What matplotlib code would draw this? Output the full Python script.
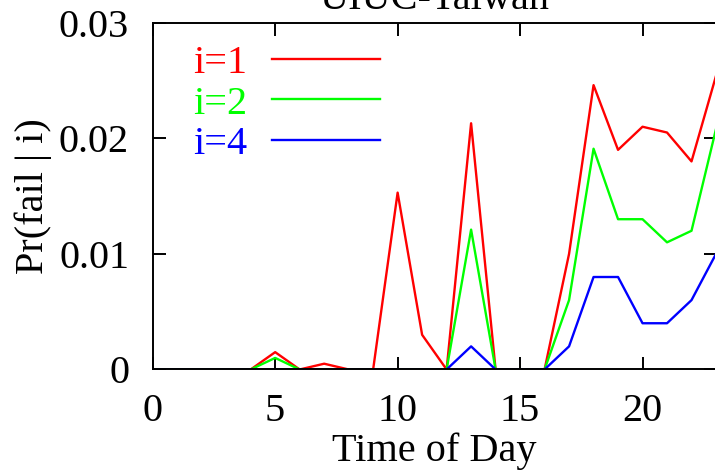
import numpy as np
import matplotlib
matplotlib.use('Agg')
import matplotlib.pyplot as plt

plt.rcParams['font.family'] = ['Liberation Serif', 'DejaVu Serif']

hours = list(range(24))

# Pr(fail | i), one value per hour
fail_i1 = [0, 0, 0, 0, 0, 0.0015, 0, 0.0005, 0, 0, 0.0153, 0.003,
           0, 0.0213, 0, 0, 0, 0.01, 0.0246, 0.019, 0.021, 0.0205, 0.018, 0.0254]
fail_i2 = [0, 0, 0, 0, 0, 0.001, 0, 0, 0, 0, 0, 0,
           0, 0.0121, 0, 0, 0, 0.006, 0.0191, 0.013, 0.013, 0.011, 0.012, 0.0208]
fail_i4 = [0, 0, 0, 0, 0, 0, 0, 0, 0, 0, 0, 0,
           0, 0.002, 0, 0, 0, 0.002, 0.008, 0.008, 0.004, 0.004, 0.006, 0.01]

series = [('i=1', fail_i1, '#ff0000'),
          ('i=2', fail_i2, '#00ff00'),
          ('i=4', fail_i4, '#0000ff')]

FS = 29

fig = plt.figure(figsize=(7.15, 4.72), dpi=100)
ax = fig.add_axes([0.2136, 0.2172, 0.7878, 0.7347])

for label, vals, color in series:
    ax.plot(hours, vals, color=color, lw=1.7, label=label)

ax.set_xlim(0, 23)
ax.set_ylim(0, 0.03)
ax.set_xticks([0, 5, 10, 15, 20])
ax.set_yticks([0, 0.01, 0.02, 0.03])
ax.set_yticklabels(['0', '0.01', '0.02', '0.03'])

ax.tick_params(direction='in', length=9, width=1.4, top=True, right=True,
               labelsize=FS, pad=17)
ax.tick_params(axis='y', pad=17)
for sp in ax.spines.values():
    sp.set_linewidth(1.4)

ax.set_xlabel('Time of Day', fontsize=FS, labelpad=2)
ax.set_ylabel('Pr(fail | i)', fontsize=FS, labelpad=5)
ax.set_title('UIUC-Taiwan', fontsize=FS, pad=10)

leg = ax.legend(loc='upper left', bbox_to_anchor=(0.072, 0.936), frameon=False,
                markerfirst=False, fontsize=FS, handlelength=2.68,
                handletextpad=0.62, labelspacing=0.08, borderpad=0,
                borderaxespad=0, labelcolor='linecolor')

fig.savefig('out.png', dpi=100)
